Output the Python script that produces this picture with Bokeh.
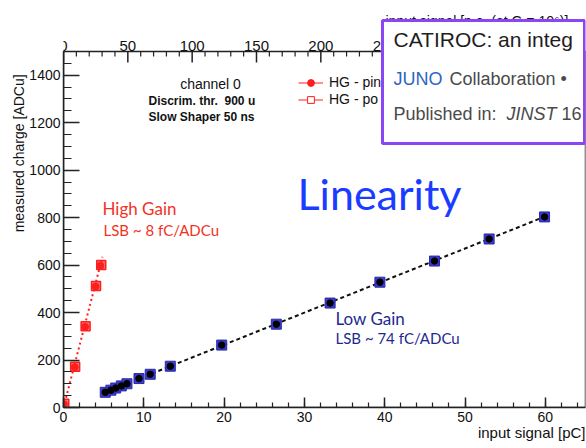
import numpy as np
from bokeh.plotting import figure
from bokeh.models import (Range1d, Label, BoxAnnotation, Legend, LegendItem,
                          SingleIntervalTicker, Title)
from bokeh.core.properties import value
from bokeh.embed import file_html
from bokeh.resources import INLINE

# ---------------- data ----------------
hg_pin_x = [0.05, 1.4, 2.7, 4.0, 4.6]
hg_pin_y = [14, 170, 340, 510, 597]
hg_pos_x = [0.1, 1.45, 2.75, 4.05, 4.7]
hg_pos_y = [16, 172, 342, 512, 600]

lg_x = [5.2, 5.9, 6.5, 7.2, 7.9, 9.4, 10.8, 13.3, 19.7, 26.5, 33.2, 39.4, 46.2, 53.0, 59.9]
lg_y = [64, 73, 82, 91, 100, 122, 140, 174, 263, 351, 440, 528, 617, 710, 803]

hg_fit_x = [0.0, 4.85]
hg_fit_y = [0, 635]
lg_fit_x = [11.0, 60.0]
lg_fit_y = [143, 805]

x_max_pc = 65
y_max_adc = 1500
pe_per_pc = 6.2415  # p.e. per pC at G = 1e6

top_major_pe = [0, 50, 100, 150, 200, 250, 300, 350]
top_minor_pe = [v for v in range(0, 401, 10) if v % 50 != 0]

legend_labels = ["HG - pin", "HG - po"]

FONT = "Liberation Sans"
RED = "#ff1e1e"
NAVY = "#1d2a8f"
AX = "#222222"

W, H = 586, 448
FRAME_L, FRAME_R, FRAME_B, DATA_TOP = 63, 585, 407, 51   # pixel layout
px_per_y = (FRAME_B - DATA_TOP) / y_max_adc
y_top = y_max_adc + DATA_TOP / px_per_y      # frame reaches canvas top

p = figure(width=W, height=H, output_backend="svg", toolbar_location=None,
           title=None,
           x_range=Range1d(0, x_max_pc), y_range=Range1d(0, y_top),
           min_border_left=FRAME_L, min_border_right=W - FRAME_R, min_border_top=0,
           min_border_bottom=H - FRAME_B, background_fill_color="white",
           border_fill_color="white", outline_line_color=None)
p.xgrid.visible = False
p.ygrid.visible = False


def style_axis(ax, major_in, minor_in, standoff):
    ax.major_tick_in = major_in
    ax.major_tick_out = 0
    ax.minor_tick_in = minor_in
    ax.minor_tick_out = 0
    ax.major_tick_line_color = AX
    ax.minor_tick_line_color = AX
    ax.major_tick_line_width = 1.5
    ax.minor_tick_line_width = 1.2
    ax.axis_line_color = AX
    ax.axis_line_width = 1.5
    ax.major_label_text_font = FONT
    ax.major_label_text_font_size = "14px"
    ax.major_label_text_color = "#111111"
    ax.major_label_standoff = standoff


xax = p.xaxis[0]
xax.ticker = SingleIntervalTicker(interval=10, num_minor_ticks=5)
style_axis(xax, 10, 5, 4)

yax = p.yaxis[0]
yax.ticker = SingleIntervalTicker(interval=200, num_minor_ticks=4)
yax.bounds = (0, y_max_adc)
style_axis(yax, 16, 8, 3)

# axis titles (in the side panels)
p.add_layout(Title(text="measured charge  [ADCu]", align="right", offset=70,
                   standoff=0, text_font=FONT, text_font_size="14px",
                   text_font_style="normal", text_color="#111111"), "left")
p.add_layout(Title(text="input signal [pC]", align="right", standoff=-5,
                   text_font=FONT, text_font_size="15px",
                   text_font_style="normal", text_color="#111111"), "below")

# frame border (top + right) of the data region
p.add_layout(BoxAnnotation(left=0, right=x_max_pc, bottom=0, top=y_max_adc,
                           fill_alpha=0, line_color=AX, line_alpha=1.0,
                           line_width=1.5, level="underlay"))

# top axis: p.e. scale (G = 1e6), ticks pointing inward
top_major_x = [v / pe_per_pc for v in top_major_pe]
top_minor_x = [v / pe_per_pc for v in top_minor_pe]
p.segment(x0=top_major_x, x1=top_major_x, y0=[y_max_adc] * len(top_major_x),
          y1=[y_max_adc - 11 / px_per_y] * len(top_major_x),
          line_color=AX, line_width=1.5)
p.segment(x0=top_minor_x, x1=top_minor_x, y0=[y_max_adc] * len(top_minor_x),
          y1=[y_max_adc - 5 / px_per_y] * len(top_minor_x),
          line_color=AX, line_width=1.2)
p.text(x=top_major_x, y=[y_max_adc] * len(top_major_x),
       text=[str(v) for v in top_major_pe], y_offset=-6,
       text_font=value(FONT), text_font_size=value("15px"), text_color="#111111",
       text_align="center", text_baseline="alphabetic")

# ---------------- glyphs ----------------
p.line(hg_fit_x, hg_fit_y, line_color=RED, line_dash="2 3", line_width=2)
p.line(lg_fit_x, lg_fit_y, line_color="#111111", line_dash="4 3", line_width=2)

p.scatter(hg_pos_x, hg_pos_y, marker="square", size=9, fill_color=RED,
          fill_alpha=0.6, line_color=RED, line_width=1.5)
p.scatter(hg_pin_x, hg_pin_y, marker="circle", size=7, fill_color=RED, line_color=RED)

p.scatter(lg_x, lg_y, marker="square", size=10, fill_color="#3a3ad2",
          line_color="#2a2aa8", line_width=1)
p.scatter(lg_x, lg_y, marker="circle", size=6.5, fill_color="black", line_color="black")

# legend-only renderers (hidden in the plot)
leg_line1 = p.line(hg_pin_x, hg_pin_y, line_color=RED, line_width=1, visible=False)
leg_pin = p.scatter(hg_pin_x, hg_pin_y, marker="circle", size=7, fill_color=RED,
                    line_color=RED, visible=False)
leg_line2 = p.line(hg_pos_x, hg_pos_y, line_color=RED, line_width=1, visible=False)
leg_pos = p.scatter(hg_pos_x, hg_pos_y, marker="square", size=7, fill_color="white",
                    line_color=RED, visible=False)

legend = Legend(items=[LegendItem(label=legend_labels[0], renderers=[leg_line1, leg_pin]),
                       LegendItem(label=legend_labels[1], renderers=[leg_line2, leg_pos])],
                location=(235, 299.5), glyph_width=25, glyph_height=17, label_height=17,
                spacing=0, padding=0, margin=0, label_standoff=6,
                label_text_font=FONT, label_text_font_size="14px",
                label_text_color="#111111",
                background_fill_alpha=0, border_line_alpha=0)
p.add_layout(legend)


def canvas_label(x, y, text, size, color="#111111", font=FONT, style="normal",
                 align="left", baseline="middle", level="annotation"):
    lab = Label(x=x, y=y, x_units="canvas", y_units="canvas", text=text,
                text_font=font, text_font_size=size, text_color=color,
                text_font_style=style, text_align=align, text_baseline=baseline,
                level=level)
    p.add_layout(lab)
    return lab


canvas_label(385, 20, "input signal [p.e. (at G = 10\u2076)]", "14px", baseline="alphabetic")

# info texts
canvas_label(210, 83, "channel 0", "14px", align="center")
canvas_label(148, 100, "Discrim. thr.\u00a0 900 u", "12px", style="bold")
canvas_label(148, 116, "Slow Shaper 50 ns", "12px", style="bold")

canvas_label(102, 208, "High Gain", "17px", color="#f2321f", font="Lato")
canvas_label(103, 229, "LSB ~ 8 fC/ADCu", "15px", color="#f2321f", font="Lato")
canvas_label(335, 318, "Low Gain", "17px", color=NAVY, font="Lato")
canvas_label(335, 337, "LSB ~ 74 fC/ADCu", "15px", color=NAVY, font="Lato")

canvas_label(297, 193, "Linearity", "43px", color="#1a3cff", font="Lato", baseline="alphabetic")

# overlay card
card = BoxAnnotation(left=382, right=584, top=20, bottom=143,
                     left_units="canvas", right_units="canvas",
                     top_units="canvas", bottom_units="canvas",
                     fill_color="white", fill_alpha=1.0,
                     line_color="#8a45f5", line_alpha=1.0, line_width=3,
                     level="overlay")
p.add_layout(card)

canvas_label(393, 39, "CATIROC: an integ", "21px", color="#1e1e1e", level="overlay")
canvas_label(393, 78, "JUNO", "18px", color="#2c66c4", level="overlay")
canvas_label(449, 78, "Collaboration \u2022", "18px", color="#4a4a4a", level="overlay")
canvas_label(393, 113, "Published in:", "18px", color="#4a4a4a", level="overlay")
canvas_label(506, 113, "JINST", "18px", color="#4a4a4a", style="italic", level="overlay")
canvas_label(561, 113, "16", "18px", color="#4a4a4a", level="overlay")

open("out.html", "w").write(file_html(p, INLINE))
